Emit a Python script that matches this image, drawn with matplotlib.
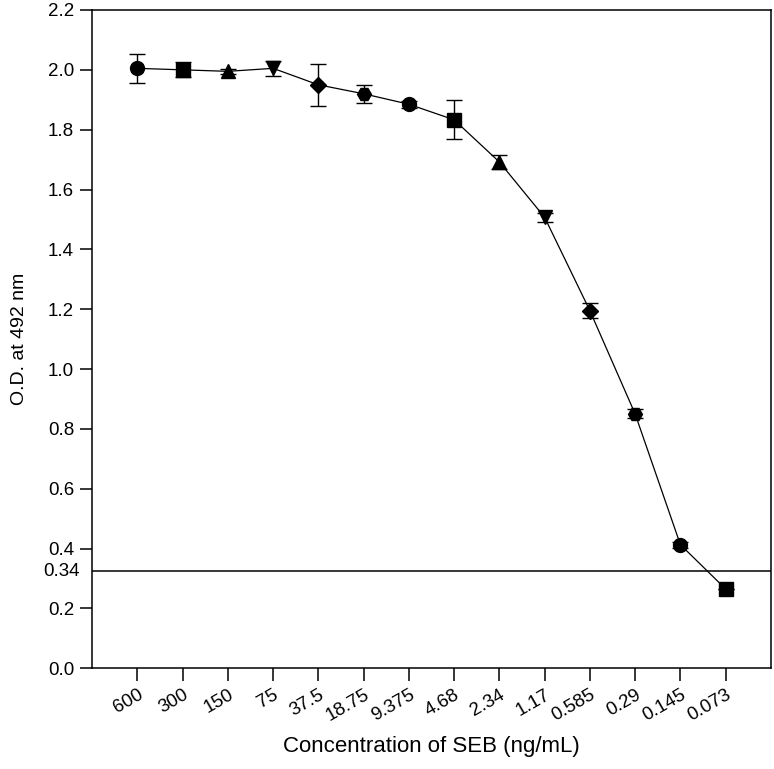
import numpy as np
import matplotlib.pyplot as plt
import matplotlib.transforms as mtransforms

plt.rcParams['font.family'] = ['Liberation Sans', 'DejaVu Sans']

# concentrations (ng/mL), read left to right
conc = ['600', '300', '150', '75', '37.5', '18.75', '9.375', '4.68',
        '2.34', '1.17', '0.585', '0.29', '0.145', '0.073']
od = [2.005, 2.0, 1.995, 2.005, 1.95, 1.92, 1.885, 1.833,
      1.692, 1.507, 1.195, 0.85, 0.413, 0.265]
err = [0.048, 0.025, 0.008, 0.026, 0.071, 0.03, 0.012, 0.065,
       0.023, 0.015, 0.025, 0.015, 0.01, 0.0]
cutoff = 0.325
cutoff_label = '0.34'
yticks = [0.0, 0.2, 0.4, 0.6, 0.8, 1.0, 1.2, 1.4, 1.6, 1.8, 2.0, 2.2]

# symbol cycle used by the original plotting software
markers = ['o', 's', '^', 'v', 'D', 'H']

fig = plt.figure(figsize=(7.74, 7.69), dpi=100)
ax = fig.add_axes([0.119, 0.131, 0.877, 0.856])

x = np.arange(len(conc))
ax.plot(x, od, color='black', lw=0.9, zorder=2)
ax.errorbar(x, od, yerr=err, fmt='none', ecolor='black', elinewidth=1.0,
            capsize=6, capthick=1.0, zorder=3)
for i in range(len(conc)):
    m = markers[i % len(markers)]
    ms = 8 if m == 'D' else 10
    if m == 's':
        ms = 9.5
    ax.plot(x[i], od[i], marker=m, color='black', ms=ms, ls='none', zorder=4)

ax.axhline(cutoff, color='black', lw=1.1, zorder=1)

ax.set_xlim(-1, 14)
ax.set_ylim(0, 2.2)
ax.set_xticks(x)
ax.set_xticklabels(conc, rotation=30, ha='right', rotation_mode='anchor')
ax.set_yticks(yticks)
ax.set_yticklabels([f'{v:.1f}' for v in yticks])
ax.tick_params(axis='both', direction='out', length=9, width=1.1,
               labelsize=13.5, pad=4)
ax.tick_params(axis='x', pad=4)

trans = mtransforms.blended_transform_factory(ax.transAxes, ax.transData)
ax.text(-0.018, cutoff, cutoff_label, transform=trans, ha='right',
        va='center', fontsize=13.5)

for s in ax.spines.values():
    s.set_linewidth(1.1)

ax.set_xlabel('Concentration of SEB (ng/mL)', fontsize=16, labelpad=8)
ax.set_ylabel('O.D. at 492 nm', fontsize=14, labelpad=14)

fig.savefig('out.png', dpi=100)
